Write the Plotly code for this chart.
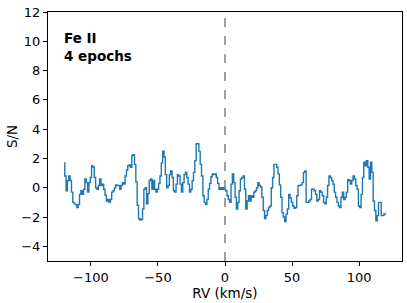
import numpy as np
import plotly.graph_objects as go

# RV grid (km/s), 1 km/s bins from -120 to 120
rv_start = -120
rv_step = 1
sn = [
    1.7, 0.8, -0.2, 0.5, 0.8, 0.5, -0.3, -1.0, -1.1, -1.15,          # -120..-111
    -1.35, -1.15, -0.45, -0.2, -0.45, -0.1, 0.6, 0.35, -0.3, 0.35,   # -110..-101
    0.7, 1.5, 1.4, 0.7, 0.0, -0.1, 0.15, 0.6, 0.15, 0.25,            # -100..-91
    -0.1, -0.5, -0.9, -0.8, -1.0, -0.8, -0.3, -0.2, 0.0, 0.2,        # -90..-81
    0.15, 0.15, -0.1, 0.15, 0.35, 0.25, 0.8, 1.2, 1.5, 1.55,         # -80..-71
    1.4, 2.2, 2.25, 1.6, 0.4, -1.2, -2.1, -2.2, -2.15, -1.45,        # -70..-61
    -0.1, 0.0, -1.1, -0.4, 0.5, 0.6, -0.1, 0.5, -0.1, -0.3,          # -60..-51
    -0.1, 0.3, 0.8, 1.7, 2.5, 2.1, 0.9, 0.0, 0.15, 0.9,              # -50..-41
    1.15, 0.7, -0.2, -0.3, 0.25, 0.9, 0.8, 0.25, -0.3, 0.35,         # -40..-31
    0.9, 1.05, 0.7, 0.25, -0.3, -0.1, 0.5, 1.05, 1.85, 3.0,          # -30..-21
    3.0, 2.5, 1.6, 0.8, -0.55, -1.0, -1.15, -0.8, -0.1, 0.3,         # -20..-11
    0.75, 0.95, 0.9, 0.95, 0.7, 0.3, -0.1, 0.0, -0.1, 0.0,           # -10..-1
    -0.1,                                                            # 0
    -0.2, -0.55, -0.8, -1.0, 0.25, 0.95, 0.35, -0.65, -1.45, -1.0,   # 1..10
    -0.2, 0.6, 0.7, 0.8, -0.1, -1.45, -0.9, -0.55, -0.9, -0.55,      # 11..20
    -0.65, -0.3, -0.2, 0.0, 0.35, 0.15, 0.05, -0.65, -1.55, -2.1,    # 21..30
    -1.9, -1.55, -1.35, -1.25, 0.0, 0.7, 1.6, 1.6, 1.4, 0.95,        # 31..40
    0.2, -0.65, -1.7, -2.0, -2.3, -1.8, -1.45, -0.45, -0.7, -1.0,    # 41..50
    -1.25, -1.4, -1.35, -0.55, 0.15, 0.15, 0.2, 0.35, 1.05, 1.15,    # 51..60
    -1.0, -1.0, -0.9, -0.8, -0.1, -0.1, -0.2, -0.45, -0.9, -0.8,     # 61..70
    -0.2, -0.3, -0.55, -1.0, -1.1, -0.65, 0.15, 0.8, 0.7, 0.5,       # 71..80
    0.25, -0.3, -0.65, -1.0, -1.25, -1.35, -0.65, -0.3, -0.8, -0.65, # 81..90
    -0.3, 0.55, 0.5, 0.25, 0.5, 0.8, 0.6, 0.15, -0.1, -1.25,         # 91..100
    -1.35, -0.45, 0.7, 1.75, 1.5, 1.85, 1.4, 0.6, 1.75, 1.05,        # 101..110
    -0.9, -1.55, -2.25, -1.9, -1.0, -1.0, -1.9, -1.9, -1.8, -1.75,   # 111..120
]
rv = [rv_start + i * rv_step for i in range(len(sn))]

x_ticks = [-100, -50, 0, 50, 100]
x_ticktext = ["\u2212100", "\u221250", "0", "50", "100"]
y_ticks = [-4, -2, 0, 2, 4, 6, 8, 10, 12]
y_ticktext = ["\u22124", "\u22122", "0", "2", "4", "6", "8", "10", "12"]

label_text = "<b>Fe II<br>4 epochs</b>"

font_family = "DejaVu Sans"

fig = go.Figure()
fig.add_trace(go.Scatter(
    x=rv, y=sn, mode="lines", line_shape="hvh",
    line=dict(color="#1f77b4", width=1.4),
    showlegend=False, hoverinfo="skip",
))

fig.add_shape(type="line", xref="x", yref="paper", x0=0, x1=0, y0=0, y1=1,
              line=dict(color="#808080", width=1.5, dash="dash"))

fig.add_annotation(text=label_text, xref="paper", yref="paper",
                   x=0.04, y=0.935, xanchor="left", yanchor="top",
                   showarrow=False, align="left",
                   font=dict(family=font_family, size=13.5, color="black"))

axis_common = dict(
    showgrid=False, zeroline=False, showline=True, linecolor="black",
    linewidth=1, mirror=True, ticks="outside", ticklen=4, tickwidth=1,
    tickcolor="black", tickfont=dict(family=font_family, size=13, color="black"),
)

fig.update_layout(
    width=407, height=303,
    margin=dict(l=48, r=5, t=12, b=42),
    paper_bgcolor="white", plot_bgcolor="white",
    font=dict(family=font_family, color="black"),
    xaxis=dict(range=[-132, 132], tickvals=x_ticks, ticktext=x_ticktext,
               title=dict(text="RV (km/s)", font=dict(family=font_family, size=13.5), standoff=0),
               **axis_common),
    yaxis=dict(range=[-5, 12], tickvals=y_ticks, ticktext=y_ticktext,
               title=dict(text="S/N", font=dict(family=font_family, size=13.5), standoff=0),
               **axis_common),
)

fig.write_html("out.html", config={"displayModeBar": False},
               post_script="document.body.style.margin='0';document.body.style.overflow='hidden';")
